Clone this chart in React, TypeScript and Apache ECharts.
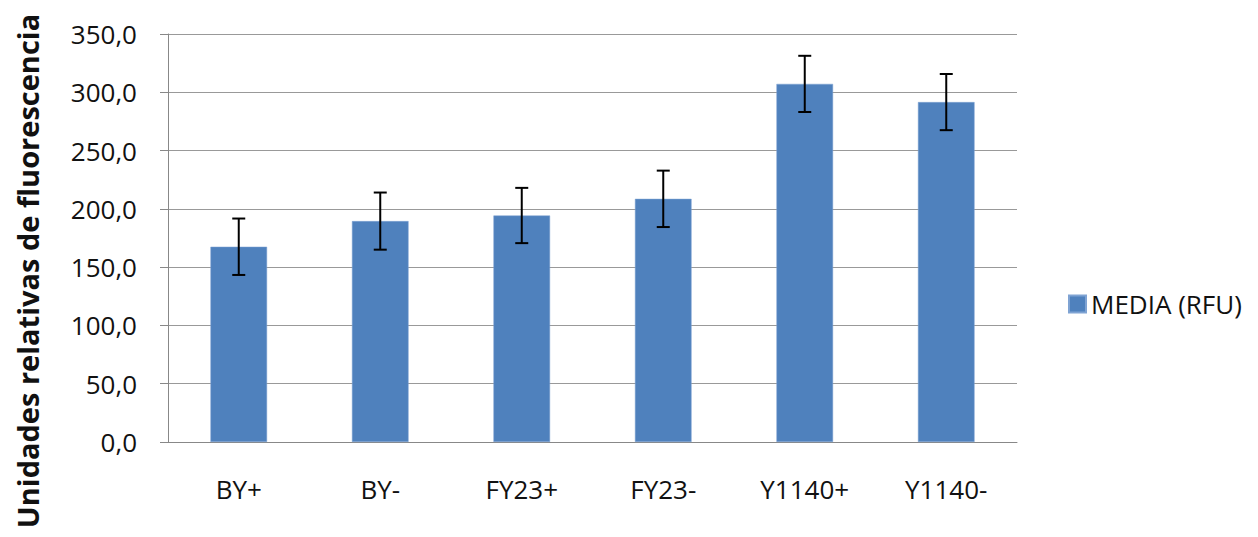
import React, { useEffect, useRef } from "react";
import * as echarts from "echarts";

const categories = ["BY+", "BY-", "FY23+", "FY23-", "Y1140+", "Y1140-"];
const means = [167.5, 189.5, 194.3, 208.6, 307.2, 291.6];
const errors = [24.2, 24.5, 23.7, 24.2, 24.1, 24.1];
const seriesName = "MEDIA (RFU)";
const yTitle = "Unidades relativas de fluorescencia";

export default function App() {
  const ref = useRef<HTMLDivElement>(null);
  useEffect(() => {
    document.body.style.margin = "0";
    const chart = echarts.init(ref.current!, null, { renderer: "svg" });
    const errData = categories.map((_, i) => [i, means[i] - errors[i], means[i] + errors[i]]);
    chart.setOption({
      animation: false,
      textStyle: { fontFamily: "Open Sans" },
      grid: { left: 168, right: 241, top: 34, bottom: 95 },
      legend: {
        data: [{ name: seriesName, icon: "rect" }],
        orient: "vertical",
        left: 1063,
        top: 286,
        itemWidth: 17,
        itemHeight: 17,
        itemGap: 8,
        textStyle: { fontSize: 26, color: "#111", fontFamily: "Open Sans" },
      },
      xAxis: {
        type: "category",
        data: categories,
        axisLine: { lineStyle: { color: "#888", width: 1 } },
        axisTick: { show: false },
        axisLabel: { fontSize: 26, color: "#111", margin: 34, fontFamily: "Open Sans" },
      },
      yAxis: {
        type: "value",
        min: 0,
        max: 350,
        interval: 50,
        axisLine: { show: true, lineStyle: { color: "#888", width: 1 } },
        axisTick: { show: true, length: 8, lineStyle: { color: "#888" } },
        splitLine: { lineStyle: { color: "#999", width: 1 } },
        axisLabel: {
          fontSize: 26,
          color: "#111",
          margin: 31,
          fontFamily: "Open Sans",
          formatter: (v: number) => v.toFixed(1).replace(".", ","),
        },
      },
      graphic: [
        {
          type: "text",
          x: 27,
          y: 271,
          rotation: Math.PI / 2,
          style: {
            text: yTitle,
            fontSize: 29,
            fontWeight: "bold",
            fontFamily: "Open Sans",
            fill: "#111",
            align: "center",
            verticalAlign: "middle",
          },
        },
      ],
      series: [
        {
          name: seriesName,
          type: "bar",
          data: means,
          barWidth: "40%",
          itemStyle: { color: "#4F81BD", borderColor: "#7FA3D3", borderWidth: 0.5 },
        },
        {
          type: "custom",
          name: "err",
          data: errData,
          z: 10,
          renderItem: (params: any, api: any) => {
            const i = api.value(0);
            const lo = api.coord([i, api.value(1)]);
            const hi = api.coord([i, api.value(2)]);
            const half = 6.5;
            const style = { stroke: "#000", lineWidth: 2 };
            return {
              type: "group",
              children: [
                { type: "line", shape: { x1: hi[0], y1: hi[1], x2: lo[0], y2: lo[1] }, style },
                { type: "line", shape: { x1: hi[0] - half, y1: hi[1], x2: hi[0] + half, y2: hi[1] }, style },
                { type: "line", shape: { x1: lo[0] - half, y1: lo[1], x2: lo[0] + half, y2: lo[1] }, style },
              ],
            };
          },
        },
      ],
    });
    return () => chart.dispose();
  }, []);
  return <div ref={ref} style={{ width: 1258, height: 537 }} />;
}
